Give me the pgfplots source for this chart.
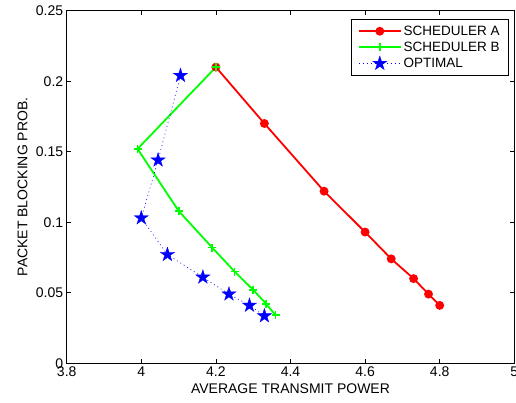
\documentclass[border=0pt]{standalone}
\usepackage{fontspec}
\setmainfont{Liberation Sans}
\usepackage{pgfplots}
\pgfplotsset{compat=1.18}

% filled five-point star, like matlab's pentagram
\pgfdeclareplotmark{fstar}{%
  \pgfpathmoveto{\pgfpointpolar{90}{\pgfplotmarksize}}%
  \pgfpathlineto{\pgfpointpolar{126}{0.382\pgfplotmarksize}}%
  \pgfpathlineto{\pgfpointpolar{162}{\pgfplotmarksize}}%
  \pgfpathlineto{\pgfpointpolar{198}{0.382\pgfplotmarksize}}%
  \pgfpathlineto{\pgfpointpolar{234}{\pgfplotmarksize}}%
  \pgfpathlineto{\pgfpointpolar{270}{0.382\pgfplotmarksize}}%
  \pgfpathlineto{\pgfpointpolar{306}{\pgfplotmarksize}}%
  \pgfpathlineto{\pgfpointpolar{342}{0.382\pgfplotmarksize}}%
  \pgfpathlineto{\pgfpointpolar{18}{\pgfplotmarksize}}%
  \pgfpathlineto{\pgfpointpolar{54}{0.382\pgfplotmarksize}}%
  \pgfpathclose
  \pgfusepathqfillstroke}

\begin{document}
\begin{tikzpicture}
\begin{axis}[
  name=ax,
  scale only axis,
  width=447.6bp, height=352.5bp,
  xmin=3.8, xmax=5, ymin=0, ymax=0.25,
  xtick={3.8,4,4.2,4.4,4.6,4.8,5},
  ytick={0,0.05,0.1,0.15,0.2,0.25},
  scaled ticks=false,
  yticklabel style={/pgf/number format/fixed,/pgf/number format/precision=2},
  xticklabel style={/pgf/number format/fixed,/pgf/number format/precision=1},
  /pgf/number format/assume math mode=true,
  tick align=inside,
  major tick length=4.5bp,
  tick style={black, line width=0.5bp},
  axis line style={line width=0.6bp},
  font=\fontsize{14bp}{16bp}\selectfont,
  xlabel={AVERAGE TRANSMIT POWER},
  ylabel={PACKET BLOCKING PROB.},
  ylabel style={yshift=1.5bp},
  legend style={at={(1,1)}, anchor=north east, xshift=-5.3bp, yshift=-8.3bp,
    font=\fontsize{13.5bp}{15bp}\selectfont, draw=black, line width=0.6bp,
    inner xsep=7bp, inner ysep=4.5bp, row sep=1.2bp},
  legend cell align=left,
  legend image code/.code={%
    \draw[mark repeat=2,mark phase=2,#1] plot coordinates {(0bp,0bp) (21bp,0bp) (42bp,0bp)};},
]
\addplot[red, line width=1.8bp, mark=*, mark size=3.5bp, mark options={solid, fill=red}]
  coordinates {(4.2,0.21) (4.33,0.17) (4.49,0.122) (4.60,0.093) (4.67,0.074) (4.73,0.06) (4.77,0.049) (4.80,0.041)};
\addplot[green, line width=1.8bp, mark=+, mark size=4bp, mark options={solid, line width=1.8bp}]
  coordinates {(4.2,0.21) (3.99,0.152) (4.10,0.108) (4.19,0.082) (4.25,0.065) (4.30,0.052) (4.335,0.042) (4.36,0.034)};
\addplot[blue, line width=0.6bp, dash pattern=on 1bp off 3bp, mark=fstar, mark size=7.5bp, mark options={solid, fill=blue, line width=0.3bp}]
  coordinates {(4.105,0.204) (4.045,0.144) (4.0,0.103) (4.07,0.077) (4.165,0.061) (4.235,0.049) (4.29,0.041) (4.33,0.0335)};
\legend{SCHEDULER A, SCHEDULER B, OPTIMAL}
\end{axis}
\pgfresetboundingbox
\path[use as bounding box] ([xshift=-66.7bp,yshift=-39.8bp]ax.south west) rectangle ([xshift=1.7bp,yshift=10.7bp]ax.north east);
\end{tikzpicture}
\end{document}
